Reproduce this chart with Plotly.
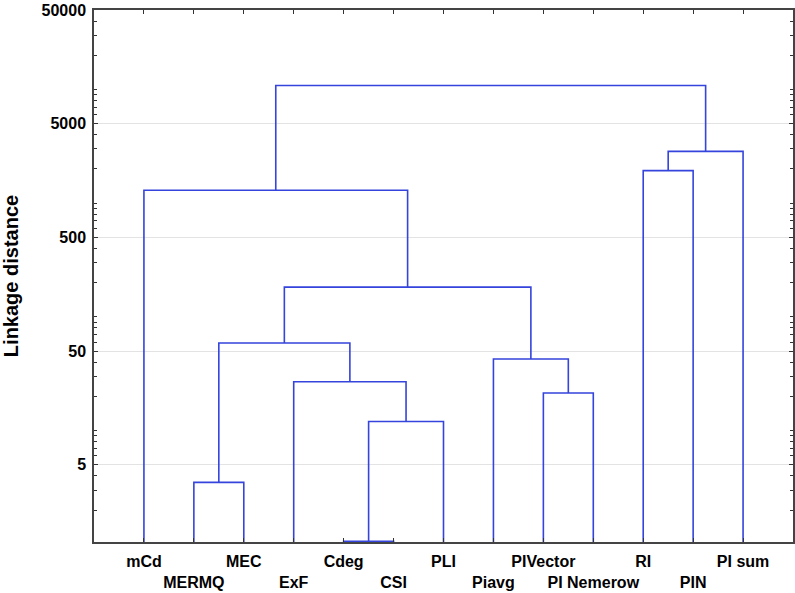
import plotly.graph_objects as go

# ---- data ----
leaf_labels = ["mCd", "MERMQ", "MEC", "ExF", "Cdeg", "CSI", "PLI",
               "Piavg", "PIVector", "PI Nemerow", "RI", "PIN", "PI sum"]
# merges (scipy-like: new cluster ids start at len(leaf_labels))
merge_left = [4, 1, 13, 8, 3, 7, 14, 19, 0, 10, 22, 21]
merge_right = [5, 2, 6, 9, 15, 16, 17, 18, 20, 11, 12, 23]
merge_height = [1.06, 3.5, 12.0, 21.4, 26.9, 42.6, 58.9, 182.7, 1298, 1934, 2856, 10840]
y_tick_vals = [5, 50, 500, 5000, 50000]
y_tick_text = ["5", "50", "500", "5000", "50000"]

LEAF_BASE = 0.1
n = len(leaf_labels)
node_x = {i: float(i) for i in range(n)}
node_h = {i: LEAF_BASE for i in range(n)}

xs, ys = [], []
for k, (a, b, h) in enumerate(zip(merge_left, merge_right, merge_height)):
    cid = n + k
    xa, xb = node_x[a], node_x[b]
    xs += [xa, xa, xb, xb, None]
    ys += [node_h[a], h, h, node_h[b], None]
    node_x[cid] = (xa + xb) / 2
    node_h[cid] = h

fig = go.Figure()
fig.add_trace(go.Scatter(x=xs, y=ys, mode="lines",
                         line=dict(color="#3444DC", width=1.6),
                         hoverinfo="skip", showlegend=False))

ticktext = [lab if i % 2 == 0 else "<br>" + lab for i, lab in enumerate(leaf_labels)]

minor_vals = []
for e in range(0, 5):
    for m in range(1, 10):
        minor_vals.append(m * 10 ** e)

font_family = "Liberation Sans, Arial, sans-serif"

fig.update_layout(
    width=795, height=593,
    margin=dict(l=94, r=2, t=10, b=51),
    paper_bgcolor="white", plot_bgcolor="white",
    font=dict(family=font_family, color="black"),
    xaxis=dict(
        range=[-1, 13], automargin=False, tickangle=0,
        tickmode="array", tickvals=list(range(n)), ticktext=ticktext,
        ticks="inside", ticklen=4, tickcolor="#333", tickwidth=1,
        showline=True, linecolor="#444", linewidth=1.5, mirror="ticks",
        showgrid=False, zeroline=False, ticklabelstandoff=4,
        tickfont=dict(size=16, family=font_family, weight="bold"),
    ),
    yaxis=dict(
        type="log", range=[0.02, 4.6990], automargin=False,
        tickmode="array", tickvals=y_tick_vals, ticktext=y_tick_text,
        ticks="inside", ticklen=4, tickcolor="#333",
        showline=True, linecolor="#444", linewidth=1.5, mirror="ticks",
        showgrid=True, gridcolor="#e3e3e3", gridwidth=1,
        zeroline=False, ticklabelstandoff=3,
        tickfont=dict(size=16, family=font_family, weight="bold"),
        minor=dict(tickmode="array", tickvals=minor_vals, ticks="inside",
                   ticklen=3, tickcolor="#333", showgrid=False),
        title=dict(text="Linkage distance", standoff=22,
                   font=dict(size=20, family=font_family, weight="bold")),
    ),
)

fig.write_html("out.html",
               config={"displayModeBar": False},
               post_script="document.body.style.margin='0';document.body.style.overflow='hidden';")
